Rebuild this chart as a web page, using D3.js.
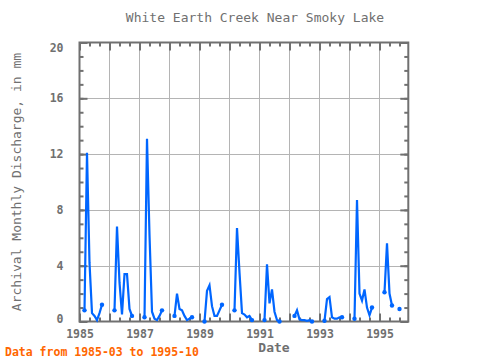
<!DOCTYPE html>
<html><head><meta charset="utf-8">
<script src="https://cdn.jsdelivr.net/npm/d3@7"></script>
<style>
html,body{margin:0;padding:0;background:#fff;}
svg{display:block;}
</style></head>
<body>
<svg id="chart" width="480" height="360"></svg>
<script>
// Season months (Mar..Oct) and monthly discharge per year, in mm (null = missing)
const seasonMonths = [3, 4, 5, 6, 7, 8, 9, 10];
const years = [1985, 1986, 1987, 1988, 1989, 1990, 1991, 1992, 1993, 1994, 1995];
const q1985 = [0.8, 12.1, 4.2, 0.6, 0.4, 0.1, 0.6, 1.2];
const q1986 = [0.8, 6.8, 2.8, 0.5, 3.4, 3.4, 0.9, 0.4];
const q1987 = [0.3, 13.1, 6.2, 0.7, 0.2, 0.1, 0.4, 0.8];
const q1988 = [0.4, 2.0, 0.9, 0.8, 0.4, 0.1, 0.2, 0.3];
const q1989 = [0.0, 2.2, 2.6, 1.1, 0.4, 0.4, 0.8, 1.2];
const q1990 = [0.8, 6.7, 3.5, 0.6, 0.5, 0.3, 0.4, 0.1];
const q1991 = [0.1, 4.1, 1.3, 2.3, 0.7, 0.1, 0.0, null];
const q1992 = [0.4, 0.8, 0.15, 0.1, 0.1, 0.05, 0.1, 0.0];
const q1993 = [0.05, 1.6, 1.75, 0.3, 0.2, 0.2, 0.3, 0.3];
const q1994 = [0.2, 8.7, 2.0, 1.5, 2.3, 1.0, 0.45, 1.0];
const q1995 = [2.1, 5.6, 2.0, 1.15, null, null, 0.9, null];
const yearValues = [q1985, q1986, q1987, q1988, q1989, q1990, q1991, q1992, q1993, q1994, q1995];

const yMajorTicks = [0, 4, 8, 12, 16, 20];
const xLabelYears = [1985, 1987, 1989, 1991, 1993, 1995];
const titleText = "White Earth Creek Near Smoky Lake";
const yTitle = "Archival Monthly Discharge, in mm";
const xTitle = "Date";
const footerText = "Data from 1985-03 to 1995-10";

// Build one series per year (gaps between seasons and missing months break the line)
const segmentsByYear = years.map((yr, i) =>
  seasonMonths.map((m, j) => ({t: yr + (m - 1) / 12, v: yearValues[i][j]}))
);

const svg = d3.select("#chart");
const L = 79.5, R = 408.3, T = 42.5, B = 321.5;
const x = d3.scaleLinear().domain([1985, 1985 + (R - L) / 30]).range([L, R]);
const y = d3.scaleLinear().domain([0, 20]).range([B, T]);

const gray = "#707070";
const gridC = "#b4b4b4";
const mono = "'DejaVu Sans Mono', 'Liberation Mono', monospace";

// grid
const gridYears = d3.range(1986, 1996);
svg.append("g").selectAll("line.v").data(gridYears).join("line")
  .attr("x1", d => Math.round(x(d)) + 0.5).attr("x2", d => Math.round(x(d)) + 0.5)
  .attr("y1", T).attr("y2", B).attr("stroke", gridC).attr("stroke-width", 1);
svg.append("g").selectAll("line.h").data([4, 8, 12, 16]).join("line")
  .attr("x1", L).attr("x2", R)
  .attr("y1", d => Math.round(y(d)) + 0.5).attr("y2", d => Math.round(y(d)) + 0.5)
  .attr("stroke", gridC).attr("stroke-width", 1);

// axes (ticks inward)
function styleAxis(g, showText) {
  g.select(".domain").remove();
  g.selectAll(".tick line").attr("stroke", gray).attr("stroke-width", 2);
  g.selectAll(".tick text").attr("fill", gray).attr("font-family", mono)
    .attr("font-weight", "bold").attr("font-size", "11.5px");
  if (!showText) g.selectAll(".tick text").remove();
}
const minorY = d3.range(0, 21, 1);
const majorX = d3.range(1985, 1996);
const minorX = d3.range(0, 11 * 3).map(i => 1985 + i / 3);

svg.append("g").attr("transform", `translate(${L},0)`)
  .call(d3.axisLeft(y).tickValues(minorY).tickSize(-4)).call(g => styleAxis(g, false));
svg.append("g").attr("transform", `translate(${L},0)`)
  .call(d3.axisLeft(y).tickValues(yMajorTicks).tickSize(-8).tickPadding(16).tickFormat(d3.format("d")))
  .call(g => styleAxis(g, true))
  .call(g => g.selectAll(".tick text").attr("dy", d => d === 20 ? "0.75em" : d === 0 ? "0.05em" : "0.32em"));
svg.append("g").attr("transform", `translate(${R},0)`)
  .call(d3.axisRight(y).tickValues(minorY).tickSize(-4)).call(g => styleAxis(g, false));
svg.append("g").attr("transform", `translate(${R},0)`)
  .call(d3.axisRight(y).tickValues(yMajorTicks).tickSize(-8)).call(g => styleAxis(g, false));

svg.append("g").attr("transform", `translate(0,${T})`)
  .call(d3.axisTop(x).tickValues(minorX).tickSize(-4)).call(g => styleAxis(g, false));
svg.append("g").attr("transform", `translate(0,${T})`)
  .call(d3.axisTop(x).tickValues(majorX).tickSize(-8)).call(g => styleAxis(g, false));
svg.append("g").attr("transform", `translate(0,${B})`)
  .call(d3.axisBottom(x).tickValues(minorX).tickSize(-4)).call(g => styleAxis(g, false));
svg.append("g").attr("transform", `translate(0,${B})`)
  .call(d3.axisBottom(x).tickValues(majorX).tickSize(-8)).call(g => styleAxis(g, false));
svg.append("g").attr("transform", `translate(0,${B})`)
  .call(d3.axisBottom(x).tickValues(xLabelYears).tickSize(0).tickPadding(8).tickFormat(d3.format("d")))
  .call(g => styleAxis(g, true));

// frame
svg.append("rect").attr("x", L).attr("y", T).attr("width", R - L).attr("height", B - T)
  .attr("fill", "none").attr("stroke", gray).attr("stroke-width", 2);

// data line
const blue = "#0066ff";
const line = d3.line().defined(d => d.v != null).x(d => x(d.t)).y(d => y(d.v));
svg.append("g").selectAll("path").data(segmentsByYear).join("path")
  .attr("d", line).attr("fill", "none").attr("stroke", blue)
  .attr("stroke-width", 2.2).attr("stroke-linejoin", "miter");

const endpoints = [];
segmentsByYear.forEach(seg => seg.forEach((d, i) => {
  if (d.v == null) return;
  const prev = i > 0 ? seg[i - 1].v : null;
  const next = i < seg.length - 1 ? seg[i + 1].v : null;
  if (prev == null || next == null) endpoints.push(d);
}));
svg.append("g").selectAll("circle").data(endpoints).join("circle")
  .attr("cx", d => x(d.t)).attr("cy", d => y(d.v)).attr("r", 2.2).attr("fill", blue);

// texts
svg.append("text").attr("x", 255).attr("y", 22).attr("text-anchor", "middle")
  .attr("font-family", mono).attr("font-size", "13px").attr("fill", gray).text(titleText);
svg.append("text").attr("transform", "translate(21,182) rotate(-90)").attr("text-anchor", "middle")
  .attr("font-family", mono).attr("font-size", "13px").attr("fill", gray).text(yTitle);
svg.append("text").attr("x", 274).attr("y", 352).attr("text-anchor", "middle")
  .attr("font-family", mono).attr("font-weight", "bold").attr("font-size", "13px").attr("fill", gray).text(xTitle);
svg.append("text").attr("x", 5).attr("y", 356)
  .attr("font-family", mono).attr("font-weight", "bold").attr("font-size", "11.5px").attr("fill", "#ff6600").text(footerText);
</script>
</body></html>
